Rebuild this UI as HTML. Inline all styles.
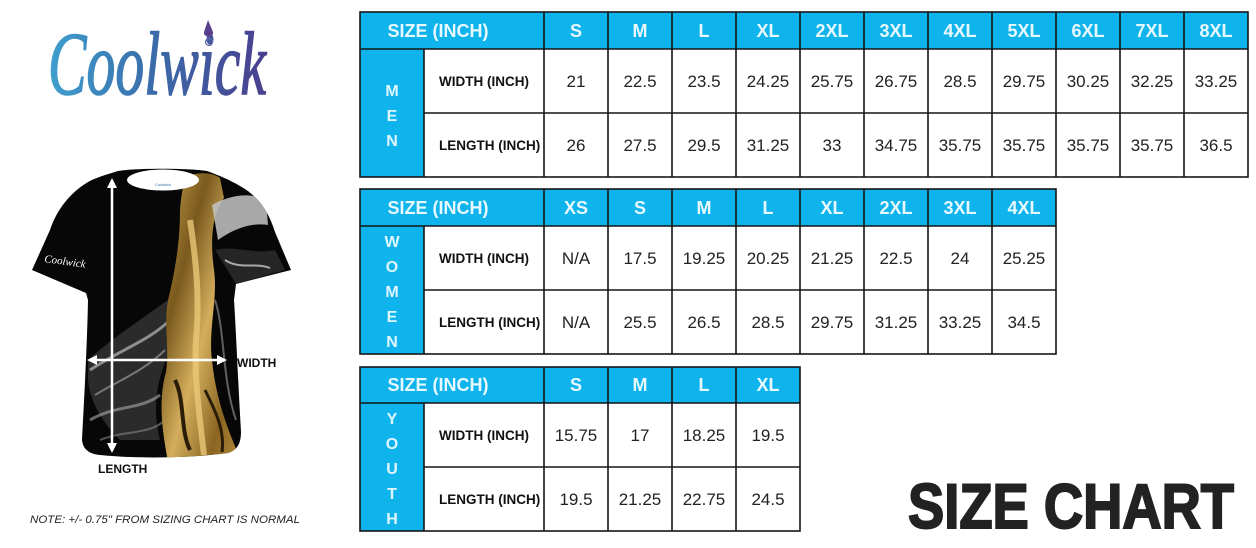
<!DOCTYPE html>
<html><head><meta charset="utf-8"><style>
html,body{margin:0;padding:0;background:#fff;}
svg{display:block;}
</style></head><body>
<svg width="1256" height="548" viewBox="0 0 1256 548" xmlns="http://www.w3.org/2000/svg" font-family="Liberation Sans, Arial, sans-serif">
<defs>
<linearGradient id="lg" x1="0" y1="0" x2="1" y2="0">
<stop offset="0" stop-color="#3f9fcf"/><stop offset="0.5" stop-color="#3a6aa8"/><stop offset="1" stop-color="#4a3f8f"/>
</linearGradient>
<linearGradient id="gold" x1="0" y1="0" x2="1" y2="1">
<stop offset="0" stop-color="#c9a04a"/><stop offset="0.3" stop-color="#7a5a1e"/><stop offset="0.55" stop-color="#d4ae5c"/><stop offset="0.8" stop-color="#8a6522"/><stop offset="1" stop-color="#b78d3c"/>
</linearGradient>
<clipPath id="shirt"><path d="M118,171 C105,175 95,178 88,182 C68,194 56,212 50,230 L32,270 L86,293 L88,300 C87,350 84,400 82,440 C83,450 90,454 100,455 C140,459 190,458 228,453 C237,450 241,444 241,432 C238,380 236,330 234,300 L236,284 L291,270 L275,232 C268,210 258,196 240,186 C230,180 218,175 207,171 C190,168 135,168 118,171 Z"/></clipPath>
</defs>
<rect width="1256" height="548" fill="#fff"/>

<!-- Logo -->
<text x="48" y="94" font-family="Liberation Serif, serif" font-style="italic" font-size="90" textLength="218" lengthAdjust="spacingAndGlyphs" fill="url(#lg)" stroke="url(#lg)" stroke-width="1.5">Coolwick</text>
<path d="M208,20 L213,32 C214,38 203,38 204,32 Z" fill="#5a3f8f"/>
<circle cx="209" cy="42" r="3.5" fill="none" stroke="#5a6aa8" stroke-width="1.2"/>

<!-- Shirt -->
<path d="M118,171 C105,175 95,178 88,182 C68,194 56,212 50,230 L32,270 L86,293 L88,300 C87,350 84,400 82,440 C83,450 90,454 100,455 C140,459 190,458 228,453 C237,450 241,444 241,432 C238,380 236,330 234,300 L236,284 L291,270 L275,232 C268,210 258,196 240,186 C230,180 218,175 207,171 C190,168 135,168 118,171 Z" fill="#070707"/>
<g clip-path="url(#shirt)">
<path d="M88,360 C110,340 140,320 168,300 L175,340 C160,370 150,400 160,440 L120,440 C100,420 90,400 88,380 Z" fill="#3a3a3a" opacity="0.7"/>
<path d="M90,370 C120,350 150,340 170,320" stroke="#bbb" stroke-width="3" fill="none" opacity="0.7"/>
<path d="M95,395 C120,380 145,370 165,350" stroke="#999" stroke-width="2" fill="none" opacity="0.7"/>
<path d="M90,420 C115,405 140,410 160,395" stroke="#aaa" stroke-width="3" fill="none" opacity="0.6"/>
<path d="M100,440 C125,430 150,435 165,420" stroke="#888" stroke-width="2" fill="none" opacity="0.6"/>
<path d="M186,176 C200,172 212,172 220,178 L224,198 C212,215 210,240 214,270 C218,300 208,330 212,360 C216,400 228,430 240,458 L168,462 C162,430 158,400 166,372 C170,345 162,320 170,292 C176,265 180,240 180,210 C181,196 183,185 186,176 Z" fill="url(#gold)"/>
<path d="M190,220 C196,260 200,300 196,340 C194,380 200,420 204,455" stroke="#e8c878" stroke-width="6" fill="none" opacity="0.8"/>
<path d="M175,380 C185,400 180,430 190,450" stroke="#2a1d08" stroke-width="4" fill="none"/>
<path d="M205,390 C215,410 225,430 222,452" stroke="#2a1d08" stroke-width="3" fill="none"/>
<path d="M212,205 C230,195 250,192 266,200 L268,225 C250,222 232,230 218,240 Z" fill="#c4c4c4" opacity="0.85"/>
<path d="M215,250 C235,245 255,255 275,250 L285,270 L236,284 Z" fill="#262626"/>
<path d="M225,260 C240,270 255,262 270,268" stroke="#aaa" stroke-width="2" fill="none"/>
<path d="M215,300 C225,330 222,380 236,420" stroke="#777" stroke-width="2" fill="none" opacity="0.8"/>
</g>
<ellipse cx="163" cy="180" rx="36" ry="10.5" fill="#fff"/>
<text x="163" y="186" font-size="4" fill="#3a6aa8" text-anchor="middle">Coolwick</text>
<text x="44" y="262" font-family="Liberation Serif, serif" font-style="italic" font-size="11" fill="#fff" transform="rotate(8 44 262)">Coolwick</text>

<!-- arrows -->
<g stroke="#fff" stroke-width="2.5" fill="#fff">
<line x1="112" y1="184" x2="112" y2="447"/>
<line x1="92" y1="360" x2="222" y2="360"/>
</g>
<g fill="#fff">
<path d="M112,178 L107,188 L117,188 Z"/>
<path d="M112,453 L107,443 L117,443 Z"/>
<path d="M87,360 L97,355 L97,365 Z"/>
<path d="M227,360 L217,355 L217,365 Z"/>
</g>
<text x="237" y="367" font-size="12" font-weight="bold" fill="#111">WIDTH</text>
<text x="98" y="473" font-size="12" font-weight="bold" fill="#111">LENGTH</text>

<text x="30" y="523" font-size="11" font-style="italic" fill="#222" textLength="270" lengthAdjust="spacingAndGlyphs">NOTE: +/- 0.75" FROM SIZING CHART IS NORMAL</text>

<text x="908" y="528" font-size="63" font-weight="bold" fill="#222" stroke="#222" stroke-width="2" textLength="326" lengthAdjust="spacingAndGlyphs">SIZE CHART</text>

<!-- ===== MEN TABLE ===== -->
<g>
<rect x="360" y="12" width="888" height="37" fill="#0fb4ec"/>
<rect x="360" y="49" width="64" height="128" fill="#0fb4ec"/>
<g stroke="#151515" stroke-width="1.6" fill="none">
<rect x="360" y="12" width="888" height="165"/>
<line x1="360" y1="49" x2="1248" y2="49"/>
<line x1="424" y1="113" x2="1248" y2="113"/>
<line x1="424" y1="49" x2="424" y2="177"/>
<line x1="544" y1="12" x2="544" y2="177"/>
<line x1="608" y1="12" x2="608" y2="177"/><line x1="672" y1="12" x2="672" y2="177"/><line x1="736" y1="12" x2="736" y2="177"/><line x1="800" y1="12" x2="800" y2="177"/><line x1="864" y1="12" x2="864" y2="177"/><line x1="928" y1="12" x2="928" y2="177"/><line x1="992" y1="12" x2="992" y2="177"/><line x1="1056" y1="12" x2="1056" y2="177"/><line x1="1120" y1="12" x2="1120" y2="177"/><line x1="1184" y1="12" x2="1184" y2="177"/>
</g>
<g font-size="18" font-weight="bold" fill="#e8f8ff" text-anchor="middle">
<text x="438" y="37">SIZE (INCH)</text>
<text x="576" y="37">S</text><text x="640" y="37">M</text><text x="704" y="37">L</text><text x="768" y="37">XL</text><text x="832" y="37">2XL</text><text x="896" y="37">3XL</text><text x="960" y="37">4XL</text><text x="1024" y="37">5XL</text><text x="1088" y="37">6XL</text><text x="1152" y="37">7XL</text><text x="1216" y="37">8XL</text>
</g>
<g font-size="16" font-weight="bold" fill="#e0f6ff" text-anchor="middle">
<text x="392" y="96">M</text><text x="392" y="121">E</text><text x="392" y="146">N</text>
</g>
<g font-size="13.5" font-weight="bold" fill="#111">
<text x="439" y="86">WIDTH (INCH)</text><text x="439" y="150">LENGTH (INCH)</text>
</g>
<g font-size="17" fill="#222" text-anchor="middle">
<text x="576" y="87">21</text><text x="640" y="87">22.5</text><text x="704" y="87">23.5</text><text x="768" y="87">24.25</text><text x="832" y="87">25.75</text><text x="896" y="87">26.75</text><text x="960" y="87">28.5</text><text x="1024" y="87">29.75</text><text x="1088" y="87">30.25</text><text x="1152" y="87">32.25</text><text x="1216" y="87">33.25</text>
<text x="576" y="151">26</text><text x="640" y="151">27.5</text><text x="704" y="151">29.5</text><text x="768" y="151">31.25</text><text x="832" y="151">33</text><text x="896" y="151">34.75</text><text x="960" y="151">35.75</text><text x="1024" y="151">35.75</text><text x="1088" y="151">35.75</text><text x="1152" y="151">35.75</text><text x="1216" y="151">36.5</text>
</g>
</g>

<!-- ===== WOMEN TABLE ===== -->
<g>
<rect x="360" y="189" width="696" height="37" fill="#0fb4ec"/>
<rect x="360" y="226" width="64" height="128" fill="#0fb4ec"/>
<g stroke="#151515" stroke-width="1.6" fill="none">
<rect x="360" y="189" width="696" height="165"/>
<line x1="360" y1="226" x2="1056" y2="226"/>
<line x1="424" y1="290" x2="1056" y2="290"/>
<line x1="424" y1="226" x2="424" y2="354"/>
<line x1="544" y1="189" x2="544" y2="354"/>
<line x1="608" y1="189" x2="608" y2="354"/><line x1="672" y1="189" x2="672" y2="354"/><line x1="736" y1="189" x2="736" y2="354"/><line x1="800" y1="189" x2="800" y2="354"/><line x1="864" y1="189" x2="864" y2="354"/><line x1="928" y1="189" x2="928" y2="354"/><line x1="992" y1="189" x2="992" y2="354"/>
</g>
<g font-size="18" font-weight="bold" fill="#e8f8ff" text-anchor="middle">
<text x="438" y="214">SIZE (INCH)</text>
<text x="576" y="214">XS</text><text x="640" y="214">S</text><text x="704" y="214">M</text><text x="768" y="214">L</text><text x="832" y="214">XL</text><text x="896" y="214">2XL</text><text x="960" y="214">3XL</text><text x="1024" y="214">4XL</text>
</g>
<g font-size="16" font-weight="bold" fill="#e0f6ff" text-anchor="middle">
<text x="392" y="247">W</text><text x="392" y="272">O</text><text x="392" y="297">M</text><text x="392" y="322">E</text><text x="392" y="347">N</text>
</g>
<g font-size="13.5" font-weight="bold" fill="#111">
<text x="439" y="263">WIDTH (INCH)</text><text x="439" y="327">LENGTH (INCH)</text>
</g>
<g font-size="17" fill="#222" text-anchor="middle">
<text x="576" y="264">N/A</text><text x="640" y="264">17.5</text><text x="704" y="264">19.25</text><text x="768" y="264">20.25</text><text x="832" y="264">21.25</text><text x="896" y="264">22.5</text><text x="960" y="264">24</text><text x="1024" y="264">25.25</text>
<text x="576" y="328">N/A</text><text x="640" y="328">25.5</text><text x="704" y="328">26.5</text><text x="768" y="328">28.5</text><text x="832" y="328">29.75</text><text x="896" y="328">31.25</text><text x="960" y="328">33.25</text><text x="1024" y="328">34.5</text>
</g>
</g>

<!-- ===== YOUTH TABLE ===== -->
<g>
<rect x="360" y="367" width="440" height="36" fill="#0fb4ec"/>
<rect x="360" y="403" width="64" height="128" fill="#0fb4ec"/>
<g stroke="#151515" stroke-width="1.6" fill="none">
<rect x="360" y="367" width="440" height="164"/>
<line x1="360" y1="403" x2="800" y2="403"/>
<line x1="424" y1="467" x2="800" y2="467"/>
<line x1="424" y1="403" x2="424" y2="531"/>
<line x1="544" y1="367" x2="544" y2="531"/>
<line x1="608" y1="367" x2="608" y2="531"/><line x1="672" y1="367" x2="672" y2="531"/><line x1="736" y1="367" x2="736" y2="531"/>
</g>
<g font-size="18" font-weight="bold" fill="#e8f8ff" text-anchor="middle">
<text x="438" y="391">SIZE (INCH)</text>
<text x="576" y="391">S</text><text x="640" y="391">M</text><text x="704" y="391">L</text><text x="768" y="391">XL</text>
</g>
<g font-size="16" font-weight="bold" fill="#e0f6ff" text-anchor="middle">
<text x="392" y="424">Y</text><text x="392" y="449">O</text><text x="392" y="474">U</text><text x="392" y="499">T</text><text x="392" y="524">H</text>
</g>
<g font-size="13.5" font-weight="bold" fill="#111">
<text x="439" y="440">WIDTH (INCH)</text><text x="439" y="504">LENGTH (INCH)</text>
</g>
<g font-size="17" fill="#222" text-anchor="middle">
<text x="576" y="441">15.75</text><text x="640" y="441">17</text><text x="704" y="441">18.25</text><text x="768" y="441">19.5</text>
<text x="576" y="505">19.5</text><text x="640" y="505">21.25</text><text x="704" y="505">22.75</text><text x="768" y="505">24.5</text>
</g>
</g>
</svg>
</body></html>
